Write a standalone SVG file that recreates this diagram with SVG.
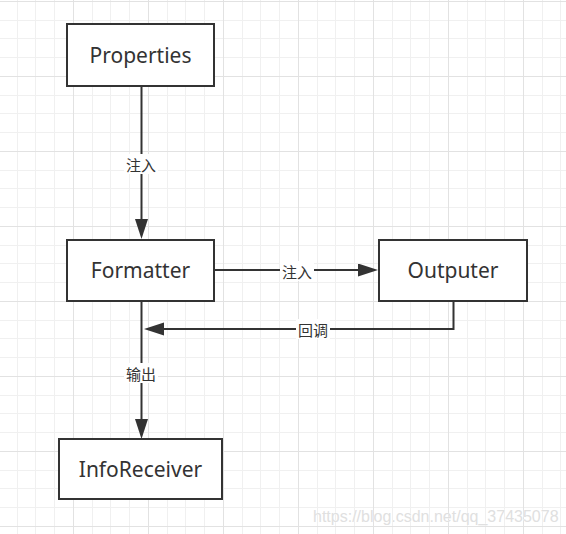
<svg xmlns="http://www.w3.org/2000/svg" width="566" height="534" viewBox="0 0 566 534">
<style>
.node rect{fill:#ffffff;stroke:#333333;stroke-width:2}
.node text{font-family:"Noto Sans","Open Sans","Noto Sans CJK SC",sans-serif;font-size:21px;fill:#333333;text-anchor:middle;dominant-baseline:central}
.edge{fill:none;stroke:#333333;stroke-width:2}
.lbl rect{fill:#ffffff}
.lbl text{font-family:"Noto Sans CJK SC","Noto Sans",sans-serif;font-size:15px;fill:#333333;text-anchor:middle;dominant-baseline:central}
.wm{font-family:"Liberation Sans",Arial,sans-serif;font-size:16px;fill:#e0e0e0;stroke:#ffffff;stroke-width:0.6;paint-order:stroke}
</style>
<defs>
<pattern id="grid" x="-2" y="1" width="75" height="75" patternUnits="userSpaceOnUse">
<rect x="0" y="0" width="75" height="75" fill="#ffffff"/>
<rect x="19" y="0" width="1" height="75" fill="#f0f0f0"/>
<rect x="37" y="0" width="1" height="75" fill="#f0f0f0"/>
<rect x="56" y="0" width="1" height="75" fill="#f0f0f0"/>
<rect x="0" y="19" width="75" height="1" fill="#f0f0f0"/>
<rect x="0" y="37" width="75" height="1" fill="#f0f0f0"/>
<rect x="0" y="56" width="75" height="1" fill="#f0f0f0"/>
<rect x="0" y="0" width="1" height="75" fill="#e2e2e2"/>
<rect x="0" y="0" width="75" height="1" fill="#e2e2e2"/>
</pattern>
<marker id="arrow" markerUnits="userSpaceOnUse" markerWidth="21" markerHeight="14" refX="1" refY="6.5" orient="auto">
<path d="M0,0 L20,6.5 L0,13 Z" fill="#333333"/>
</marker>
</defs>
<rect x="0" y="0" width="566" height="534" fill="url(#grid)"/>

<g id="connectors">
<path class="edge" d="M141.5,87 V220" marker-end="url(#arrow)"/>
<path class="edge" d="M214,270 H359" marker-end="url(#arrow)"/>
<path class="edge" d="M453.5,301 V329 H163" marker-end="url(#arrow)"/>
<path class="edge" d="M141.5,301 V420" marker-end="url(#arrow)"/>
<g class="lbl">
<rect x="124" y="154" width="34" height="20"/><text x="141" y="164">注入</text>
<rect x="280" y="261" width="34" height="20"/><text x="297" y="271">注入</text>
<rect x="296" y="319" width="34" height="20"/><text x="313" y="329">回调</text>
<rect x="124" y="363" width="34" height="20"/><text x="141" y="373">输出</text>
</g>
</g>

<g id="node-properties" class="node">
<rect x="67" y="24" width="147" height="62"/>
<text x="140.5" y="55">Properties</text>
</g>
<g id="node-formatter" class="node">
<rect x="67" y="240" width="147" height="61"/>
<text x="140.5" y="270">Formatter</text>
</g>
<g id="node-outputer" class="node">
<rect x="379" y="240" width="148" height="61"/>
<text x="453" y="270">Outputer</text>
</g>
<g id="node-inforeceiver" class="node">
<rect x="59" y="439" width="163" height="60"/>
<text x="140.5" y="469">InfoReceiver</text>
</g>

<text class="wm" x="313" y="522">https://blog.csdn.net/qq_37435078</text>
</svg>
